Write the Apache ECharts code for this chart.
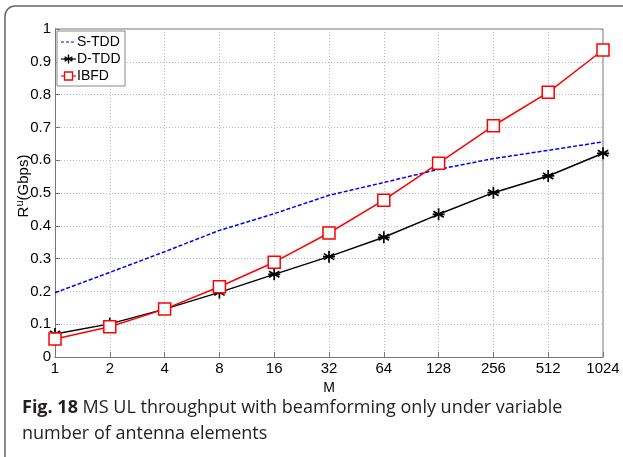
<!DOCTYPE html>
<html><head><meta charset="utf-8">
<script src="https://cdn.jsdelivr.net/npm/echarts@6/dist/echarts.min.js"></script>
<style>html,body{margin:0;padding:0;background:#fff}#c{width:623px;height:457px}</style>
</head><body><div id="c"></div>
<script>
const categories = ['1','2','4','8','16','32','64','128','256','512','1024'];
const sTDD = [0.196, 0.258, 0.321, 0.386, 0.437, 0.493, 0.532, 0.572, 0.605, 0.630, 0.656];
const dTDD = [0.070, 0.101, 0.146, 0.197, 0.252, 0.306, 0.365, 0.435, 0.501, 0.552, 0.621];
const ibfd = [0.055, 0.092, 0.146, 0.214, 0.289, 0.378, 0.478, 0.591, 0.705, 0.807, 0.936];
const yTicks = [0, 0.1, 0.2, 0.3, 0.4, 0.5, 0.6, 0.7, 0.8, 0.9, 1];

const chart = echarts.init(document.getElementById('c'));
const font = 'Liberation Sans, Arial, sans-serif';
const starPath = 'path://M0,-1L0,1M-0.87,-0.5L0.87,0.5M-0.87,0.5L0.87,-0.5M-1,0L1,0';
function starLines(cx, cy, r) {
  const out = [];
  const segs = [[0, -r, 0, r], [-0.87*r, -0.5*r, 0.87*r, 0.5*r], [-0.87*r, 0.5*r, 0.87*r, -0.5*r], [-r, 0, r, 0]];
  segs.forEach(s => out.push({type: 'line', shape: {x1: cx+s[0], y1: cy+s[1], x2: cx+s[2], y2: cy+s[3]}, style: {stroke: '#000', lineWidth: 1.4}, z: 52}));
  return out;
}
chart.setOption({
  animation: false,
  grid: {left: 55, right: 20, top: 29, bottom: 100, containLabel: false},
  xAxis: {
    type: 'category', data: categories, boundaryGap: false,
    name: 'M', nameLocation: 'middle', nameGap: 20,
    nameTextStyle: {fontFamily: font, fontSize: 14, color: '#000'},
    axisLine: {show: true, lineStyle: {color: '#777', width: 1}},
    axisTick: {show: true, inside: true, length: 5, lineStyle: {color: '#777'}},
    axisLabel: {fontFamily: font, fontSize: 15, color: '#000', margin: 4},
    splitLine: {show: true, lineStyle: {color: '#bbb', type: [1, 2], width: 1}}
  },
  yAxis: {
    type: 'value', min: 0, max: 1, interval: 0.1,
    axisLine: {show: true, lineStyle: {color: '#777', width: 1}},
    axisTick: {show: true, inside: true, length: 5, lineStyle: {color: '#777'}},
    axisLabel: {fontFamily: font, fontSize: 15, color: '#000', margin: 4,
      formatter: v => { const t = yTicks.find(x => Math.abs(x - v) < 1e-9); return t === undefined ? '' : String(t); }},
    splitLine: {show: true, lineStyle: {color: '#bbb', type: [1, 2], width: 1}}
  },
  legend: {show: false},
  graphic: [
    {type: 'rect', shape: {x: 5, y: 6, width: 700, height: 500, r: 10}, style: {fill: 'none', stroke: '#666', lineWidth: 1.5}, z: 100},
    {type: 'line', shape: {x1: 55, y1: 29, x2: 603, y2: 29}, style: {stroke: '#777', lineWidth: 1}},
    {type: 'line', shape: {x1: 603, y1: 29, x2: 603, y2: 357}, style: {stroke: '#777', lineWidth: 1}},
    {type: 'text', x: 24, y: 186, rotation: Math.PI / 2,
      style: {text: '{r|R}{s|u}{r|(Gbps)}', align: 'center', verticalAlign: 'middle',
        rich: {r: {fontFamily: font, fontSize: 15, fill: '#000'}, s: {fontFamily: font, fontSize: 11, fill: '#000', verticalAlign: 'top', padding: [0,0,8,0]}}}},
    {type: 'rect', shape: {x: 57, y: 31, width: 68, height: 55}, style: {fill: '#fff', stroke: '#888', lineWidth: 1}, z: 50},
    {type: 'line', shape: {x1: 61, y1: 42, x2: 76, y2: 42}, style: {stroke: '#0000ff', lineWidth: 1.2, lineDash: [3, 2]}, z: 51},
    {type: 'text', x: 77, y: 42, style: {text: 'S-TDD', fontFamily: font, fontSize: 14, fill: '#000', verticalAlign: 'middle'}, z: 51},
    {type: 'line', shape: {x1: 61, y1: 59, x2: 76, y2: 59}, style: {stroke: '#000', lineWidth: 1.2}, z: 51},
    ...starLines(68.5, 59, 4.5),
    {type: 'text', x: 77, y: 59, style: {text: 'D-TDD', fontFamily: font, fontSize: 14, fill: '#000', verticalAlign: 'middle'}, z: 51},
    {type: 'line', shape: {x1: 61, y1: 76, x2: 76, y2: 76}, style: {stroke: '#ff0000', lineWidth: 1.2}, z: 51},
    {type: 'rect', shape: {x: 64.5, y: 72, width: 8, height: 8}, style: {stroke: '#ff0000', fill: '#fff', lineWidth: 1.3}, z: 52},
    {type: 'text', x: 77, y: 76, style: {text: 'IBFD', fontFamily: font, fontSize: 14, fill: '#000', verticalAlign: 'middle'}, z: 51},
    {type: 'text', x: 22, y: 408, style: {text: '{b|Fig. 18} MS UL throughput with beamforming only under variable', verticalAlign: 'middle',
      fontFamily: 'Open Sans', fontSize: 18, fill: '#231f20', rich: {b: {fontFamily: 'Open Sans', fontWeight: 'bold', fontSize: 18, fill: '#231f20'}}}},
    {type: 'text', x: 22, y: 434, style: {text: 'number of antenna elements', verticalAlign: 'middle', fontFamily: 'Open Sans', fontSize: 18, fill: '#231f20'}}
  ],
  series: [
    {name: 'S-TDD', type: 'line', data: sTDD, showSymbol: false, lineStyle: {color: '#0000ff', width: 1.5, type: [4, 2]}, itemStyle: {color: '#0000ff'}, z: 3},
    {name: 'D-TDD', type: 'line', data: dTDD, symbol: starPath, symbolSize: 12, lineStyle: {color: '#000', width: 1.5}, itemStyle: {color: '#000', borderColor: '#000', borderWidth: 1.7}, z: 4},
    {name: 'IBFD', type: 'line', data: ibfd, symbol: 'rect', symbolSize: 12, lineStyle: {color: '#ff0000', width: 1.5}, itemStyle: {color: '#fff', borderColor: '#ff0000', borderWidth: 1.5}, z: 5}
  ]
});
</script></body></html>
